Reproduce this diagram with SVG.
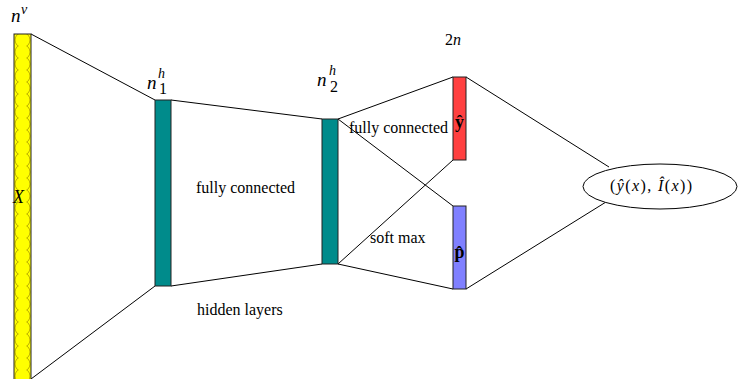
<svg xmlns="http://www.w3.org/2000/svg" width="738" height="379" viewBox="0 0 738 379">
<defs>
<style>
.bar{stroke:#222;stroke-width:1}
.ln{stroke:#000;stroke-width:1;fill:none}
.t{font-family:'Liberation Serif','Times New Roman','DejaVu Serif',serif;font-size:16px;fill:#000}
.m{font-family:'Liberation Serif','Times New Roman','DejaVu Serif',serif;font-style:italic;fill:#000}
.b{font-family:'Liberation Serif','Times New Roman','DejaVu Serif',serif;font-weight:bold;font-size:18px;fill:#000}
</style>
<pattern id="circ" x="14" y="34" width="17" height="12" patternUnits="userSpaceOnUse">
<rect width="17" height="12" fill="#ffff00"/>
<circle cx="8.5" cy="6" r="7.5" fill="none" stroke="#b4a400" stroke-width="0.9"/>
</pattern>
</defs>
<rect width="738" height="379" fill="#fff"/>
<g id="connectors">
<line class="ln" x1="31" y1="34" x2="155" y2="100"/>
<line class="ln" x1="31" y1="379" x2="155" y2="286"/>
<line class="ln" x1="171" y1="100" x2="322" y2="119"/>
<line class="ln" x1="171" y1="286" x2="322" y2="264"/>
<line class="ln" x1="338" y1="119" x2="453" y2="77"/>
<line class="ln" x1="338" y1="119" x2="453" y2="206"/>
<line class="ln" x1="338" y1="264" x2="453" y2="160"/>
<line class="ln" x1="338" y1="264" x2="453" y2="289"/>
<line class="ln" x1="466" y1="77" x2="609" y2="167"/>
<line class="ln" x1="466" y1="289" x2="606" y2="202"/>
</g>
<g id="input">
<rect class="bar" x="14" y="34" width="17" height="350" fill="url(#circ)"/>
<text class="m" x="11" y="22" font-size="19">n</text>
<text class="m" x="21" y="14" font-size="14">v</text>
<text class="m" x="13" y="203" font-size="18">X</text>
</g>
<g id="hidden1">
<rect class="bar" x="155" y="100" width="16" height="186" fill="#008b8b"/>
<text class="m" x="147" y="89" font-size="19">n</text>
<text class="m" x="158" y="78" font-size="14">h</text>
<text class="t" x="159" y="94" font-size="14">1</text>
</g>
<g id="hidden2">
<rect class="bar" x="322" y="119" width="16" height="145" fill="#008b8b"/>
<text class="m" x="317" y="86" font-size="19">n</text>
<text class="m" x="329" y="75" font-size="14">h</text>
<text class="t" x="330" y="92" font-size="14">2</text>
</g>
<g id="yhat">
<rect class="bar" x="453" y="77" width="13" height="83" fill="#ff4040"/>
<text class="b" x="459.5" y="128" text-anchor="middle">ŷ</text>
<text class="t" x="445" y="45" font-size="19">2<tspan font-style="italic">n</tspan></text>
</g>
<g id="phat">
<rect class="bar" x="453" y="206" width="13" height="83" fill="#8080ff"/>
<text class="b" x="459.5" y="258" text-anchor="middle">p̂</text>
</g>
<g id="output">
<ellipse cx="660" cy="186.5" rx="77" ry="22.5" fill="#fff" stroke="#000" stroke-width="1"/>
<text class="t" x="610" y="191" font-size="19" letter-spacing="1.4">(<tspan font-style="italic">ŷ</tspan>(<tspan font-style="italic">x</tspan>), <tspan font-style="italic">Î</tspan>(<tspan font-style="italic">x</tspan>))</text>
</g>
<g id="labels">
<text class="t" x="196" y="193">fully connected</text>
<text class="t" x="197" y="315">hidden layers</text>
<text class="t" x="349" y="133">fully connected</text>
<text class="t" x="370" y="243">soft max</text>
</g>
</svg>
